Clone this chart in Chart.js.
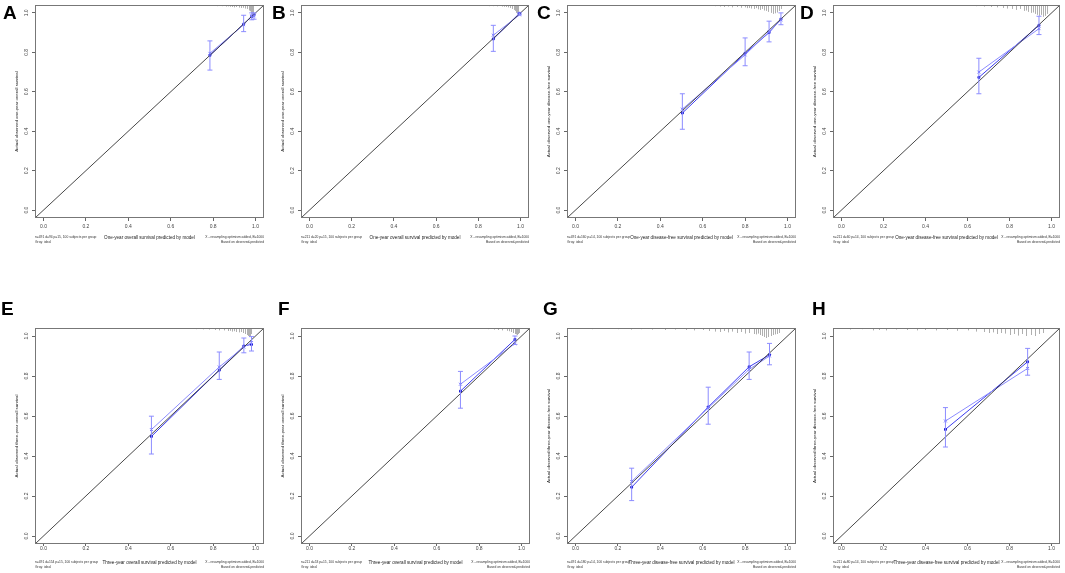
<!DOCTYPE html>
<html>
<head>
<meta charset="utf-8">
<script src="https://cdn.jsdelivr.net/npm/chart.js@4.4.0/dist/chart.umd.min.js"></script>
<style>
  body { margin: 0; background: #fff; width: 1065px; height: 573px; overflow: hidden; position: relative; }
  canvas { position: absolute; }
</style>
</head>
<body>
<script>
// axis ticks (both axes)
const tickVals = [0, 0.2, 0.4, 0.6, 0.8, 1.0];
const AX_MIN = -0.04, AX_MAX = 1.04;

// A: one-year OS, training
const predA = [0.785, 0.944, 0.982, 0.993];
const obsA  = [0.785, 0.943, 0.982, 0.990];
const lowA  = [0.710, 0.905, 0.965, 0.968];
const highA = [0.858, 0.988, 1.000, 1.000];
const corrA = [0.795, 0.940, 0.985, 0.985];
const spikeXA = [0.12,0.25,0.38,0.47,0.55,0.61,0.66,0.70,0.74,0.77,0.80,0.82,0.84,0.86,0.87,0.88,0.89,0.90,0.91,0.92,0.93,0.94,0.95,0.96,0.97,0.975,0.98,0.985,0.99];
const spikeHA = [0.003,0.003,0.003,0.003,0.003,0.003,0.004,0.004,0.004,0.005,0.005,0.006,0.006,0.008,0.007,0.009,0.01,0.012,0.01,0.013,0.015,0.014,0.018,0.02,0.028,0.032,0.04,0.05,0.045];

// B: one-year OS, validation
const predB = [0.871, 0.995];
const obsB  = [0.868, 0.998];
const lowB  = [0.805, 0.990];
const highB = [0.937, 1.000];
const corrB = [0.887, 0.990];
const spikeXB = [0.35,0.5,0.6,0.68,0.74,0.78,0.82,0.85,0.87,0.89,0.91,0.92,0.93,0.94,0.95,0.96,0.97,0.975,0.98,0.985,0.99];
const spikeHB = [0.003,0.003,0.003,0.004,0.004,0.005,0.005,0.006,0.006,0.007,0.008,0.009,0.01,0.012,0.015,0.02,0.025,0.03,0.04,0.045,0.035];

// C: one-year DFS, training
const predC = [0.504, 0.800, 0.913, 0.969];
const obsC  = [0.492, 0.795, 0.900, 0.968];
const lowC  = [0.410, 0.732, 0.853, 0.940];
const highC = [0.590, 0.873, 0.958, 1.000];
const corrC = [0.512, 0.787, 0.905, 0.965];
const spikeXC = [0.25,0.32,0.38,0.43,0.48,0.52,0.56,0.6,0.63,0.66,0.68,0.7,0.72,0.74,0.76,0.78,0.8,0.81,0.82,0.83,0.84,0.85,0.86,0.87,0.88,0.89,0.9,0.91,0.92,0.93,0.94,0.95,0.96,0.97];
const spikeHC = [0.003,0.003,0.003,0.003,0.004,0.004,0.004,0.005,0.005,0.006,0.008,0.01,0.008,0.012,0.01,0.014,0.012,0.016,0.015,0.018,0.02,0.016,0.022,0.025,0.02,0.028,0.03,0.035,0.04,0.045,0.042,0.038,0.03,0.02];

// D: one-year DFS, validation
const predD = [0.654, 0.940];
const obsD  = [0.673, 0.937];
const lowD  = [0.590, 0.890];
const highD = [0.770, 0.983];
const corrD = [0.700, 0.920];
const spikeXD = [0.3,0.38,0.45,0.5,0.55,0.6,0.64,0.68,0.71,0.74,0.77,0.79,0.81,0.83,0.85,0.87,0.88,0.89,0.9,0.91,0.92,0.93,0.94,0.95,0.96,0.97,0.98];
const spikeHD = [0.003,0.003,0.004,0.004,0.005,0.005,0.006,0.008,0.01,0.012,0.015,0.018,0.02,0.025,0.02,0.03,0.028,0.035,0.04,0.038,0.045,0.05,0.055,0.05,0.06,0.055,0.045];

// E: three-year OS, training
const predE = [0.509, 0.829, 0.945, 0.981];
const obsE  = [0.498, 0.829, 0.950, 0.958];
const lowE  = [0.410, 0.783, 0.916, 0.925];
const highE = [0.599, 0.920, 0.990, 0.997];
const corrE = [0.532, 0.845, 0.945, 0.967];
const spikeXE = [0.1,0.2,0.3,0.4,0.47,0.54,0.6,0.64,0.68,0.72,0.75,0.78,0.81,0.83,0.85,0.87,0.88,0.89,0.9,0.91,0.92,0.93,0.94,0.95,0.96,0.965,0.97,0.975,0.98];
const spikeHE = [0.003,0.003,0.003,0.003,0.003,0.004,0.004,0.005,0.005,0.006,0.007,0.008,0.01,0.012,0.012,0.015,0.014,0.018,0.016,0.02,0.022,0.02,0.025,0.03,0.035,0.04,0.045,0.04,0.03];

// F: three-year OS, validation
const predF = [0.712, 0.969];
const obsF  = [0.724, 0.983];
const lowF  = [0.639, 0.958];
const highF = [0.823, 1.000];
const corrF = [0.759, 0.962];
const spikeXF = [0.2,0.35,0.5,0.6,0.7,0.76,0.8,0.84,0.87,0.89,0.91,0.93,0.94,0.95,0.96,0.97,0.975,0.98,0.985,0.99];
const spikeHF = [0.003,0.003,0.003,0.003,0.004,0.004,0.005,0.006,0.008,0.01,0.012,0.014,0.016,0.02,0.025,0.03,0.032,0.035,0.03,0.025];

// G: three-year DFS, training
const predG = [0.265, 0.626, 0.819, 0.915];
const obsG  = [0.244, 0.645, 0.846, 0.906];
const lowG  = [0.177, 0.559, 0.783, 0.856];
const highG = [0.339, 0.744, 0.920, 0.963];
const corrG = [0.273, 0.640, 0.833, 0.900];
const spikeXG = [0.03,0.08,0.14,0.2,0.26,0.31,0.36,0.42,0.47,0.52,0.56,0.6,0.63,0.66,0.68,0.7,0.72,0.74,0.76,0.78,0.8,0.82,0.84,0.85,0.86,0.87,0.88,0.89,0.9,0.91,0.92,0.93,0.94,0.95,0.96];
const spikeHG = [0.005,0.006,0.005,0.006,0.008,0.006,0.008,0.01,0.008,0.01,0.012,0.01,0.015,0.018,0.02,0.015,0.022,0.018,0.025,0.02,0.028,0.025,0.03,0.032,0.028,0.035,0.04,0.045,0.05,0.045,0.04,0.035,0.032,0.03,0.025];

// H: three-year DFS, validation
const predH = [0.495, 0.886];
const obsH  = [0.533, 0.871];
const lowH  = [0.445, 0.804];
const highH = [0.642, 0.938];
const corrH = [0.575, 0.838];
const spikeXH = [0.04,0.1,0.15,0.18,0.21,0.26,0.31,0.36,0.4,0.45,0.5,0.55,0.6,0.64,0.68,0.7,0.72,0.74,0.76,0.78,0.8,0.82,0.84,0.86,0.88,0.9,0.92,0.94,0.96];
const spikeHH = [0.008,0.006,0.012,0.01,0.012,0.008,0.01,0.012,0.01,0.012,0.01,0.014,0.012,0.018,0.02,0.025,0.022,0.03,0.025,0.028,0.035,0.03,0.038,0.03,0.04,0.035,0.04,0.03,0.025];

const xTitles = ['One-year overall survival predicted by model', 'One-year disease-free survival predicted by model',
                 'Three-year overall survival predicted by model', 'Three-year disease-free survival predicted by model'];
const yTitles = ['Actual observed one-year overall survival', 'Actual observed one-year disease-free survival',
                 'Actual observed three-year overall survival', 'Actual observed three-year disease-free survival'];
const notes = ['n=491 d=94 p=15, 100 subjects per group', 'n=211 d=20 p=15, 100 subjects per group',
               'n=491 d=160 p=14, 100 subjects per group', 'n=211 d=60 p=14, 100 subjects per group',
               'n=491 d=154 p=15, 100 subjects per group', 'n=211 d=53 p=15, 100 subjects per group',
               'n=491 d=180 p=14, 100 subjects per group', 'n=211 d=80 p=14, 100 subjects per group'];

const FONT = '"Liberation Sans", Arial, sans-serif';

// layout of the two rows and the eight plot boxes
const rows = [
  { canvasTop: 0,   height: 250, boxTop: 2,   boxBottom: 218, tickLen: 3, tickPad: 3, titleGap: 20, letterBase: 19 },
  { canvasTop: 290, height: 283, boxTop: 328, boxBottom: 544, tickLen: 2, tickPad: 0, titleGap: 19, letterBase: 315 }
];

const panels = [
  { letter: 'A', row: 0, boxLeft: 35,  boxRight: 267,  letterX: 3,   pred: predA, obs: obsA, low: lowA, high: highA, corr: corrA, sx: spikeXA, sh: spikeHA, t: 0 },
  { letter: 'B', row: 0, boxLeft: 301, boxRight: 532,  letterX: 272, pred: predB, obs: obsB, low: lowB, high: highB, corr: corrB, sx: spikeXB, sh: spikeHB, t: 0 },
  { letter: 'C', row: 0, boxLeft: 567, boxRight: 799,  letterX: 537, pred: predC, obs: obsC, low: lowC, high: highC, corr: corrC, sx: spikeXC, sh: spikeHC, t: 1 },
  { letter: 'D', row: 0, boxLeft: 833, boxRight: 1063, letterX: 800, pred: predD, obs: obsD, low: lowD, high: highD, corr: corrD, sx: spikeXD, sh: spikeHD, t: 1 },
  { letter: 'E', row: 1, boxLeft: 35,  boxRight: 267,  letterX: 1,   pred: predE, obs: obsE, low: lowE, high: highE, corr: corrE, sx: spikeXE, sh: spikeHE, t: 2 },
  { letter: 'F', row: 1, boxLeft: 301, boxRight: 533,  letterX: 278, pred: predF, obs: obsF, low: lowF, high: highF, corr: corrF, sx: spikeXF, sh: spikeHF, t: 2 },
  { letter: 'G', row: 1, boxLeft: 567, boxRight: 799,  letterX: 543, pred: predG, obs: obsG, low: lowG, high: highG, corr: corrG, sx: spikeXG, sh: spikeHG, t: 3 },
  { letter: 'H', row: 1, boxLeft: 833, boxRight: 1063, letterX: 812, pred: predH, obs: obsH, low: lowH, high: highH, corr: corrH, sx: spikeXH, sh: spikeHH, t: 3 }
];

function pts(xs, ys) {
  return xs.map((x, i) => ({ x: x, y: ys[i] }));
}

function makePanel(p, idx) {
  const r = rows[p.row];
  const yAxisW = 35;
  const cLeft = p.boxLeft - yAxisW;
  const cWidth = p.boxRight - cLeft + 2;
  const canvas = document.createElement('canvas');
  canvas.width = cWidth;
  canvas.height = r.height;
  canvas.style.left = cLeft + 'px';
  canvas.style.top = r.canvasTop + 'px';
  canvas.style.width = cWidth + 'px';
  canvas.style.height = r.height + 'px';
  document.body.appendChild(canvas);

  const calib = {
    id: 'calib' + idx,
    beforeDatasetsDraw(chart) {
      const ctx = chart.ctx, xs = chart.scales.x, ys = chart.scales.y;
      // histogram of predicted values hanging from the top
      ctx.save();
      ctx.strokeStyle = '#9a9a9a';
      ctx.lineWidth = 0.8;
      p.sx.forEach((v, i) => {
        const x = Math.round(xs.getPixelForValue(v)) + 0.5;
        ctx.beginPath();
        ctx.moveTo(x, ys.getPixelForValue(AX_MAX));
        ctx.lineTo(x, ys.getPixelForValue(AX_MAX - p.sh[i]));
        ctx.stroke();
      });
      ctx.restore();
    },
    afterDatasetsDraw(chart) {
      const ctx = chart.ctx, xs = chart.scales.x, ys = chart.scales.y;
      // error bars
      ctx.save();
      ctx.strokeStyle = '#8c8cff';
      ctx.lineWidth = 1;
      p.pred.forEach((v, i) => {
        const x = xs.getPixelForValue(v);
        const y1 = ys.getPixelForValue(p.low[i]);
        const y2 = ys.getPixelForValue(p.high[i]);
        ctx.beginPath();
        ctx.moveTo(x, y1); ctx.lineTo(x, y2);
        ctx.moveTo(x - 2.5, y1); ctx.lineTo(x + 2.5, y1);
        ctx.moveTo(x - 2.5, y2); ctx.lineTo(x + 2.5, y2);
        ctx.stroke();
      });
      ctx.restore();
    },
    afterDraw(chart) {
      const ctx = chart.ctx, a = chart.chartArea, ys = chart.scales.y;
      ctx.save();
      // box
      ctx.strokeStyle = '#777';
      ctx.lineWidth = 1;
      ctx.strokeRect(a.left + 0.5, a.top + 0.5, a.right - a.left - 1, a.bottom - a.top - 1);
      // rotated y tick labels
      ctx.fillStyle = '#444';
      ctx.font = '5px ' + FONT;
      ctx.textAlign = 'center';
      ctx.textBaseline = 'middle';
      tickVals.forEach(v => {
        ctx.save();
        ctx.translate(a.left - 8, ys.getPixelForValue(v));
        ctx.rotate(-Math.PI / 2);
        ctx.fillText(v.toFixed(1), 0, 0);
        ctx.restore();
      });
      // y title
      ctx.fillStyle = '#222';
      ctx.font = '4.4px ' + FONT;
      ctx.save();
      ctx.translate(a.left - 18, (a.top + a.bottom) / 2);
      ctx.rotate(-Math.PI / 2);
      ctx.fillText(yTitles[p.t], 0, 0);
      ctx.restore();
      // x title
      ctx.font = '4.6px ' + FONT;
      ctx.fillText(xTitles[p.t], (a.left + a.right) / 2, a.bottom + r.titleGap);
      // footnotes
      ctx.font = '3.3px ' + FONT;
      ctx.fillStyle = '#333';
      ctx.textAlign = 'left';
      ctx.fillText(notes[idx], a.left, a.bottom + r.titleGap - 0.5);
      ctx.fillText('Gray: ideal', a.left, a.bottom + r.titleGap + 4);
      ctx.textAlign = 'right';
      ctx.fillText('X - resampling optimism added, B=1000', a.right, a.bottom + r.titleGap - 0.5);
      ctx.fillText('Based on observed-predicted', a.right, a.bottom + r.titleGap + 4);
      // panel letter
      ctx.fillStyle = '#000';
      ctx.font = 'bold 19px ' + FONT;
      ctx.textAlign = 'left';
      ctx.textBaseline = 'alphabetic';
      ctx.fillText(p.letter, p.letterX - cLeft, r.letterBase - r.canvasTop);
      ctx.restore();
    }
  };

  const setTicks = s => { s.ticks = tickVals.map(v => ({ value: v })); };

  new Chart(canvas, {
    type: 'scatter',
    data: {
      datasets: [
        { data: pts([AX_MIN, AX_MAX], [AX_MIN, AX_MAX]), showLine: true, borderColor: '#333', borderWidth: 0.9, pointRadius: 0 },
        { data: pts(p.pred, p.corr), showLine: true, borderColor: '#8c8cff', borderWidth: 1,
          pointStyle: 'crossRot', pointRadius: 2, pointBorderColor: '#6f6fff', pointBorderWidth: 1 },
        { data: pts(p.pred, p.obs), showLine: true, borderColor: '#3c3cf0', borderWidth: 1,
          pointStyle: 'rect', pointRadius: 1.3, pointBackgroundColor: '#1414d0', pointBorderColor: '#1414d0' }
      ]
    },
    options: {
      responsive: false,
      animation: false,
      events: [],
      layout: { padding: { top: r.boxTop - r.canvasTop, right: 2, left: 0, bottom: 0 } },
      plugins: { legend: { display: false }, tooltip: { enabled: false } },
      scales: {
        x: {
          type: 'linear', min: AX_MIN, max: AX_MAX,
          afterBuildTicks: setTicks,
          afterFit: s => { s.height = r.canvasTop + r.height - r.boxBottom; },
          grid: { drawOnChartArea: false, drawTicks: true, tickLength: r.tickLen, color: '#666' },
          border: { display: false },
          ticks: { padding: r.tickPad, color: '#444', font: { size: 5, family: FONT }, maxRotation: 0,
                   callback: v => v.toFixed(1) }
        },
        y: {
          type: 'linear', min: AX_MIN, max: AX_MAX,
          afterBuildTicks: setTicks,
          afterFit: s => { s.width = yAxisW; },
          grid: { drawOnChartArea: false, drawTicks: true, tickLength: 3, color: '#666' },
          border: { display: false },
          ticks: { display: false }
        }
      }
    },
    plugins: [calib]
  });
}

panels.forEach(makePanel);
</script>
</body>
</html>
